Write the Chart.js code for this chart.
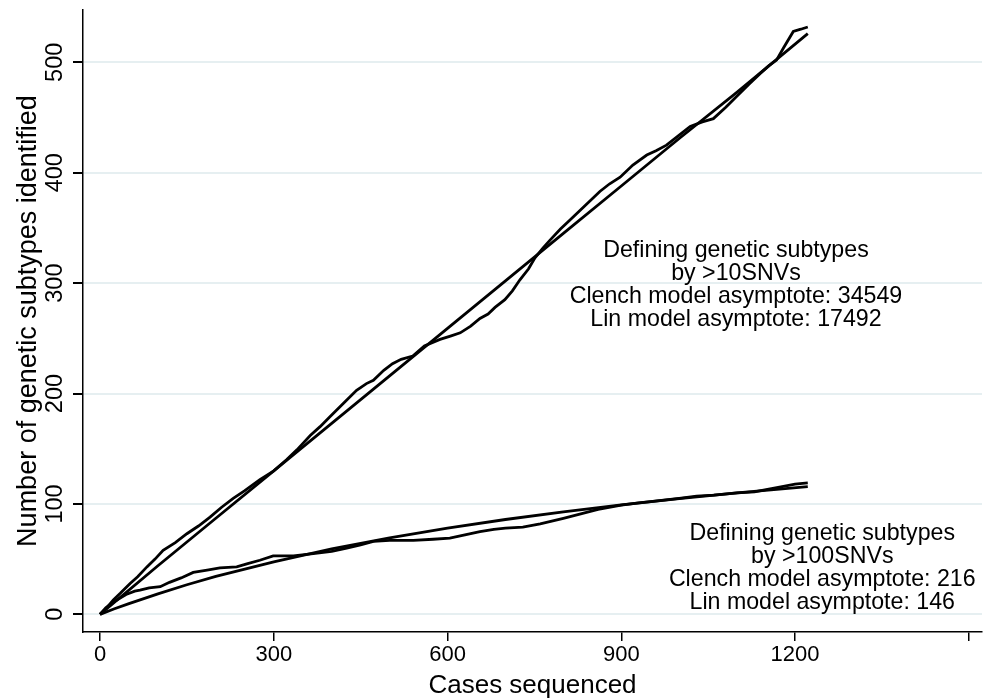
<!DOCTYPE html>
<html>
<head>
<meta charset="utf-8">
<script src="https://cdn.jsdelivr.net/npm/chart.js@4.4.1/dist/chart.umd.min.js"></script>
<style>
  html, body { margin: 0; padding: 0; background: #fff; }
  #wrap { width: 983px; height: 699px; }
</style>
</head>
<body>
<div id="wrap"><canvas id="myChart" width="983" height="699"></canvas></div>
<script>
// observed curve, subtypes defined by >10 SNVs
const tenCases = [0, 10, 23, 35, 52, 65, 81, 95, 109, 130, 150, 170, 190, 210, 230, 250, 276, 300, 322, 340,
    363, 380, 397, 420, 443, 460, 472, 490, 505, 520, 540, 560, 587, 605, 622, 640, 656, 670, 682, 699,
    712, 725, 740, 751, 765, 777, 795, 811, 835, 863, 880, 898, 920, 944, 960, 978, 1000, 1019, 1040, 1059,
    1080, 1099, 1120, 1140, 1155, 1168, 1180, 1197, 1210, 1222];
const tenFound = [0, 5, 13, 19, 28, 34, 43, 50, 58, 65, 73, 80, 88, 97, 105, 112, 122, 130, 140, 149,
    162, 170, 179, 191, 203, 209, 212, 221, 227, 231, 234, 243, 249, 252, 255, 261, 268, 272, 278, 285,
    293, 303, 313, 323, 332, 339, 349, 357, 369, 383, 390, 396, 407, 416, 420, 425, 434, 442, 446, 449,
    459, 469, 480, 490, 497, 502, 513, 528, 530, 532];
// fitted curve, >10 SNVs
const tenFitCases = [0, 100, 200, 300, 400, 500, 600, 700, 800, 900, 1000, 1100, 1222];
const tenFit = [0, 44, 87, 130, 173, 216, 259, 302, 345, 388, 431, 473, 526];

// observed curve, subtypes defined by >100 SNVs
const hundredCases = [0, 10, 20, 29, 45, 60, 69, 85, 104, 120, 140, 161, 185, 207, 236, 255, 276, 299, 334, 368,
    400, 426, 450, 472, 500, 541, 575, 604, 630, 656, 680, 700, 730, 760, 800, 830, 860, 900, 930, 950,
    1000, 1030, 1060, 1100, 1130, 1150, 1180, 1200, 1222];
const hundredFound = [0, 6, 10, 13, 18, 21, 22, 24, 25, 29, 33, 38, 40, 42, 43, 46, 49, 53, 53, 55,
    57, 60, 63, 66, 67, 67, 68, 69, 72, 75, 77, 78, 79, 82, 87, 91, 95, 99, 101, 102,
    105, 107, 108, 110, 111, 113, 116, 118, 119];
// fitted curve, >100 SNVs
const hundredFitCases = [0, 25, 50, 100, 150, 200, 300, 400, 500, 600, 700, 800, 900, 1000, 1100, 1222];
const hundredFit = [0, 5, 9.7, 18.6, 26.8, 34.3, 47.6, 59.2, 69.2, 78.0, 85.9, 92.9, 99.2, 104.8, 110.0, 115.6];

const xTicks = [0, 300, 600, 900, 1200, 1500];
const yTicks = [0, 100, 200, 300, 400, 500];

const topNote = ['Defining genetic subtypes', 'by >10SNVs', 'Clench model asymptote: 34549', 'Lin model asymptote: 17492'];
const bottomNote = ['Defining genetic subtypes', 'by >100SNVs', 'Clench model asymptote: 216', 'Lin model asymptote: 146'];

const fam = '"Liberation Sans", Arial, Helvetica, sans-serif';

function pts(xs, ys) {
    return xs.map(function (x, i) { return { x: x, y: ys[i] }; });
}

function line(data) {
    return {
        data: data,
        borderColor: '#000',
        borderWidth: 2.8,
        pointRadius: 0,
        tension: 0,
        fill: false
    };
}

// y labels are drawn standing up like in the stata graph, plus the two text blocks
const textPlugin = {
    id: 'textPlugin',
    afterDraw: function (chart) {
        const ctx = chart.ctx;
        const xs = chart.scales.x, ys = chart.scales.y;
        ctx.save();
        ctx.fillStyle = '#000';
        ctx.font = '23.5px ' + fam;
        yTicks.forEach(function (v) {
            ctx.save();
            ctx.translate(56, ys.getPixelForValue(v));
            ctx.rotate(-Math.PI / 2);
            ctx.textAlign = 'center';
            ctx.textBaseline = 'middle';
            ctx.fillText(String(v), 0, 0);
            ctx.restore();
        });
        ctx.font = '23.2px ' + fam;
        ctx.textAlign = 'center';
        ctx.textBaseline = 'alphabetic';
        let cx = xs.getPixelForValue(1098), cy = ys.getPixelForValue(323.6);
        topNote.forEach(function (s, i) { ctx.fillText(s, cx, cy + i * 23); });
        cx = xs.getPixelForValue(1247); cy = ys.getPixelForValue(67.3);
        bottomNote.forEach(function (s, i) { ctx.fillText(s, cx, cy + i * 23); });
        ctx.restore();
    }
};

let myChart = document.getElementById('myChart').getContext('2d');

let chart1 = new Chart(myChart, {
    type: 'line',
    data: {
        datasets: [
            line(pts(tenCases, tenFound)),
            line(pts(tenFitCases, tenFit)),
            line(pts(hundredCases, hundredFound)),
            line(pts(hundredFitCases, hundredFit))
        ]
    },
    options: {
        responsive: false,
        animation: false,
        devicePixelRatio: 1,
        layout: { padding: { top: 10, right: 1, left: 0, bottom: 0 } },
        plugins: {
            legend: { display: false },
            tooltip: { enabled: false }
        },
        scales: {
            x: {
                type: 'linear',
                min: -29.35,
                max: 1522.8,
                afterBuildTicks: function (a) { a.ticks = xTicks.map(function (v) { return { value: v }; }); },
                afterFit: function (s) { s.height = 67; },
                ticks: {
                    color: '#000',
                    font: { family: fam, size: 22 },
                    padding: 1,
                    maxRotation: 0,
                    autoSkip: false,
                    callback: function (v) { return v === 1500 ? '' : String(v); }
                },
                grid: { drawOnChartArea: false, color: '#000', lineWidth: 1.5, tickLength: 9 },
                border: { color: '#000', width: 1.5 },
                title: { display: true, text: 'Cases sequenced', color: '#000', font: { family: fam, size: 26, lineHeight: 1 }, padding: { top: 0, bottom: 0 } }
            },
            y: {
                type: 'linear',
                min: -16,
                max: 547.4,
                afterBuildTicks: function (a) { a.ticks = yTicks.map(function (v) { return { value: v }; }); },
                afterFit: function (s) { s.width = 83; },
                ticks: { display: false },
                grid: { color: '#e6eff1', lineWidth: 2, tickColor: '#000', tickLength: 10 },
                border: { color: '#000', width: 1.5 },
                title: { display: true, text: 'Number of genetic subtypes identified', color: '#000', font: { family: fam, size: 27, lineHeight: 1 }, padding: { top: 15, bottom: 0 } }
            }
        }
    },
    plugins: [textPlugin]
});
</script>
</body>
</html>
